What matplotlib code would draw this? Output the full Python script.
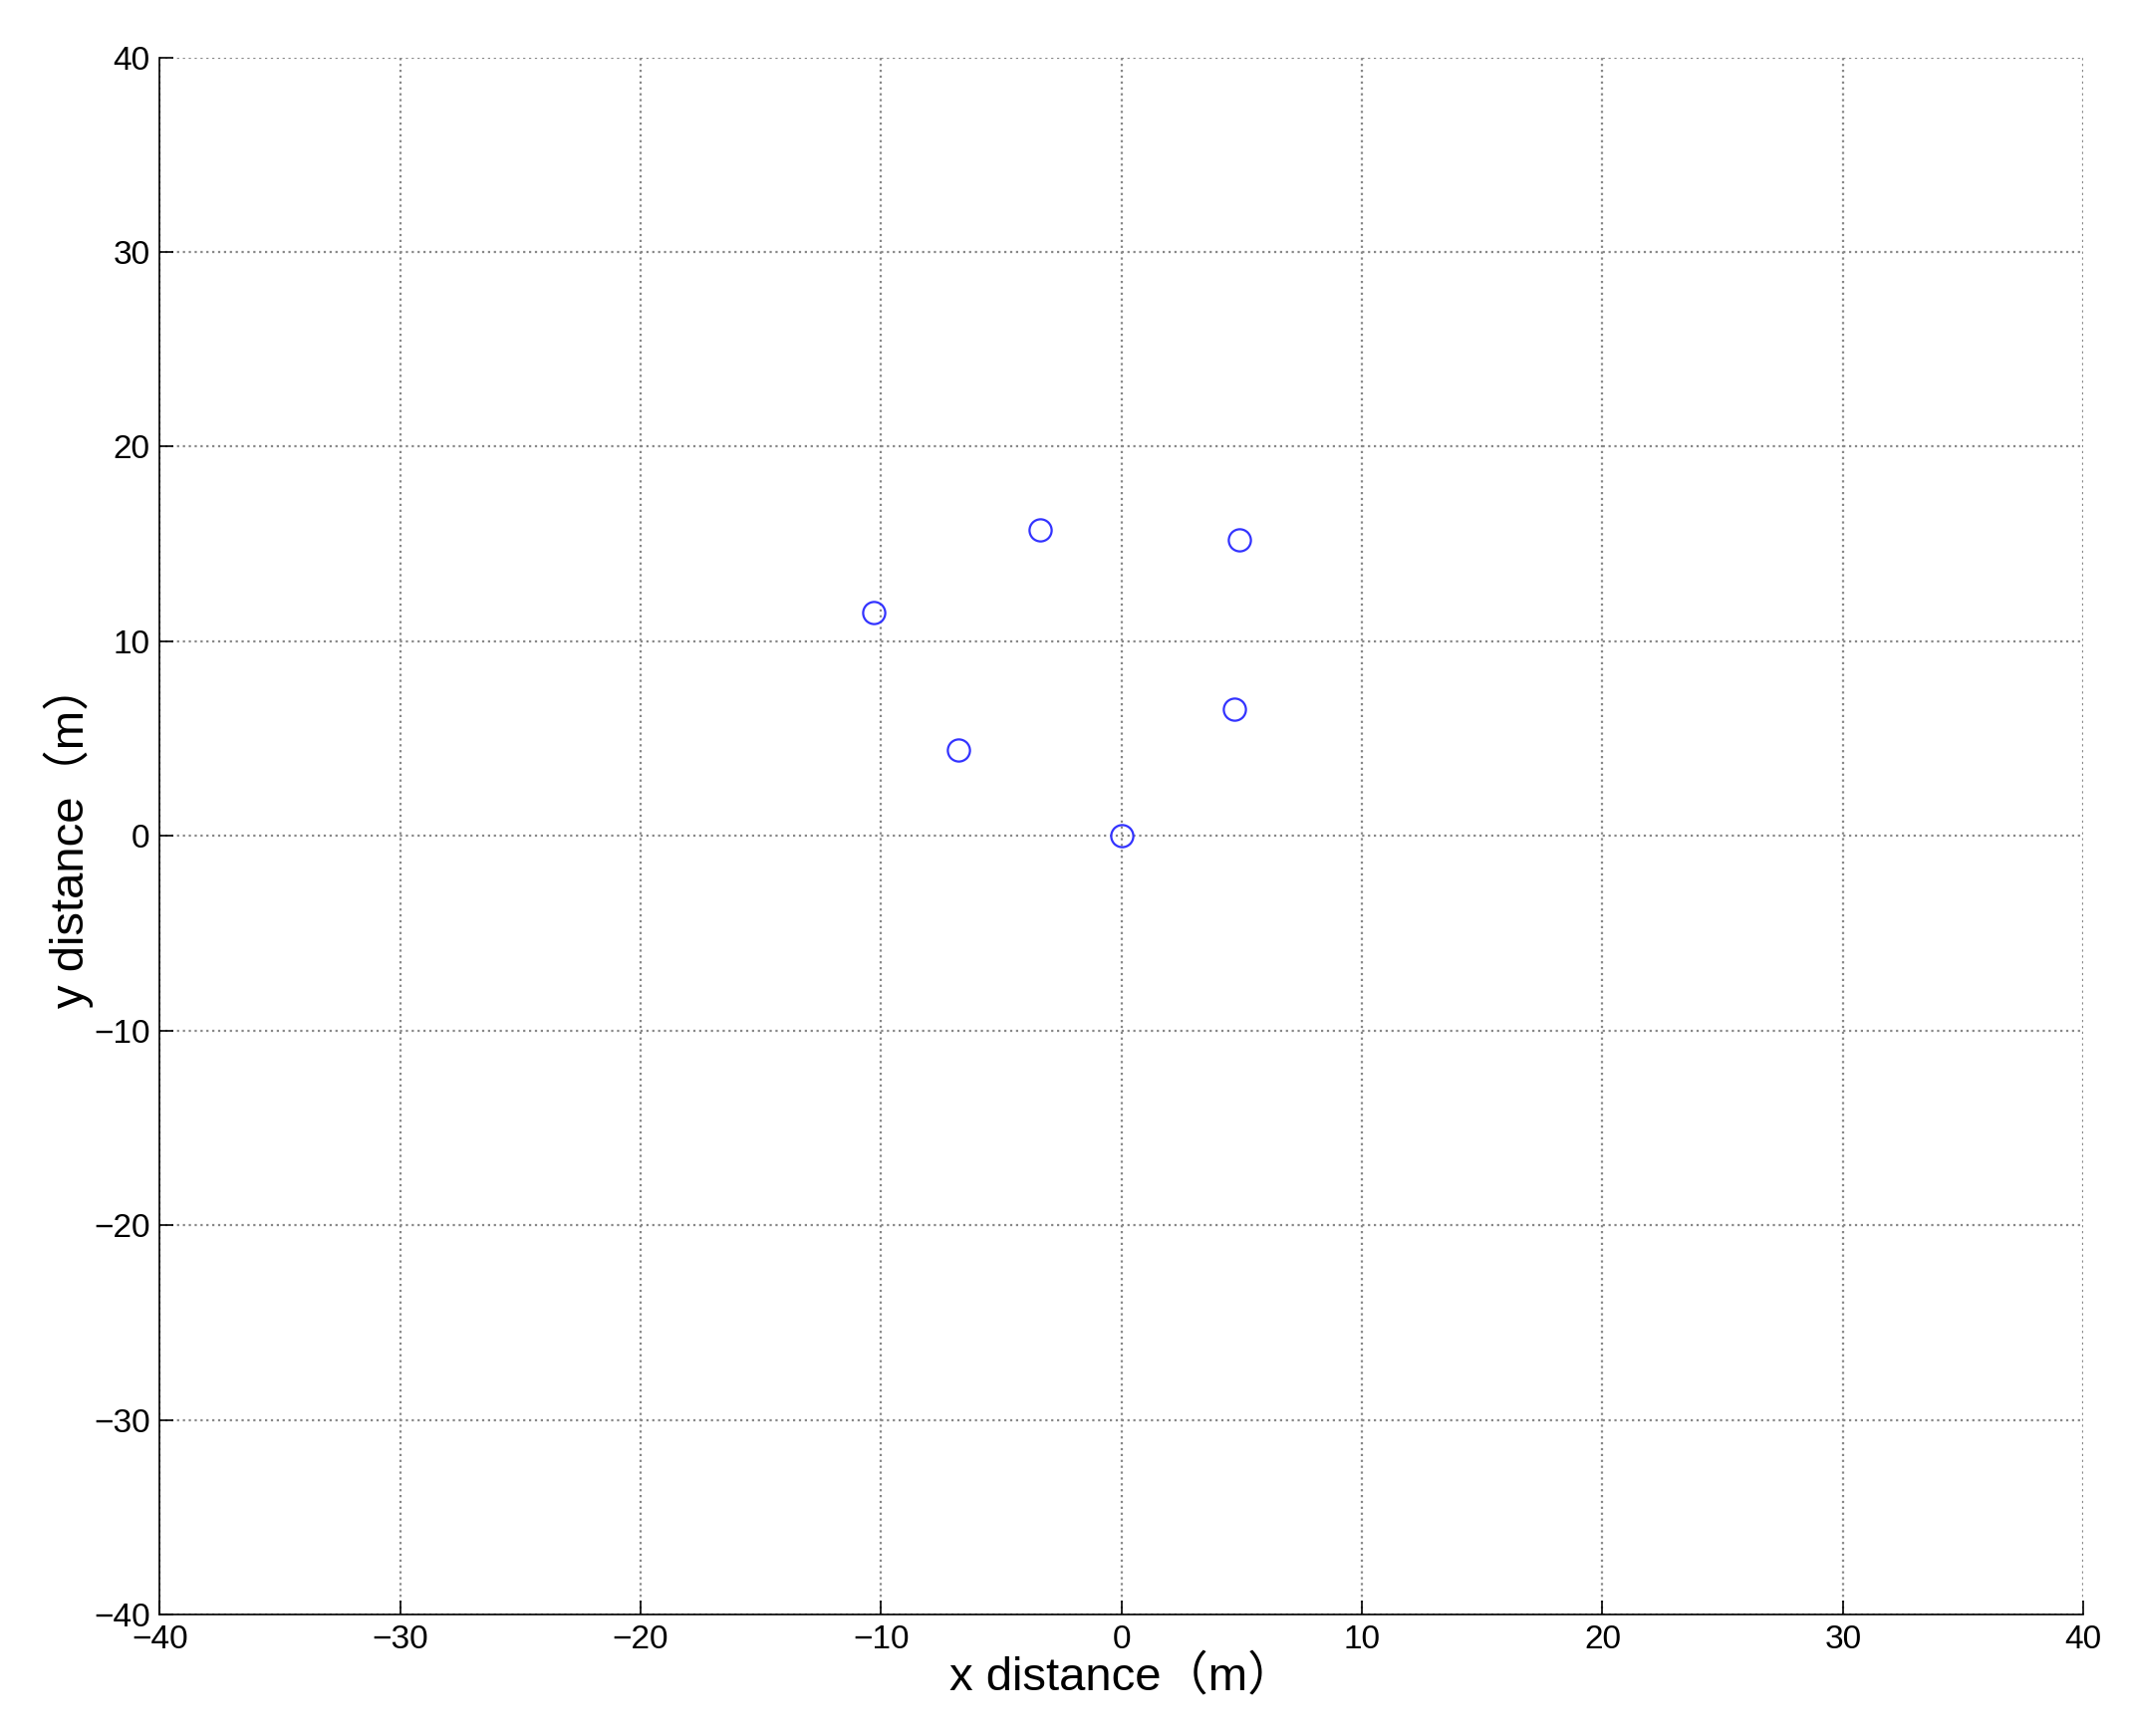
import matplotlib
matplotlib.use("Agg")
import matplotlib.pyplot as plt

plt.rcParams['font.family'] = ['Liberation Sans', 'Noto Sans CJK SC', 'DejaVu Sans']

x_pos = [0.0, -6.8, 4.7, -10.3, -3.4, 4.9]
y_pos = [0.0, 4.4, 6.5, 11.5, 15.7, 15.2]
ticks = [-40, -30, -20, -10, 0, 10, 20, 30, 40]

fig = plt.figure(figsize=(10.695, 8.715), dpi=200)
ax = fig.add_axes([0.075, 0.07, 0.9026, 0.897])
ax.plot(x_pos, y_pos, 'o', mfc='none', mec='#3333ff', mew=0.8, ms=8)
ax.set_xlim(-40, 40)
ax.set_ylim(-40, 40)
ax.set_xticks(ticks)
ax.set_yticks(ticks)
ax.tick_params(direction='in', labelsize=12, length=5, width=0.6, top=False, right=False)
ax.grid(True, linestyle=':', color='#888888', linewidth=0.8)
for side in ['top', 'right']:
    ax.spines[side].set_visible(False)
for side in ['left', 'bottom']:
    ax.spines[side].set_linewidth(0.6)
ax.set_xlabel('x distance（m）', fontsize=17, labelpad=0)
ax.set_ylabel('y distance（m）', fontsize=17, labelpad=0)
fig.savefig('out.png', dpi=200)
